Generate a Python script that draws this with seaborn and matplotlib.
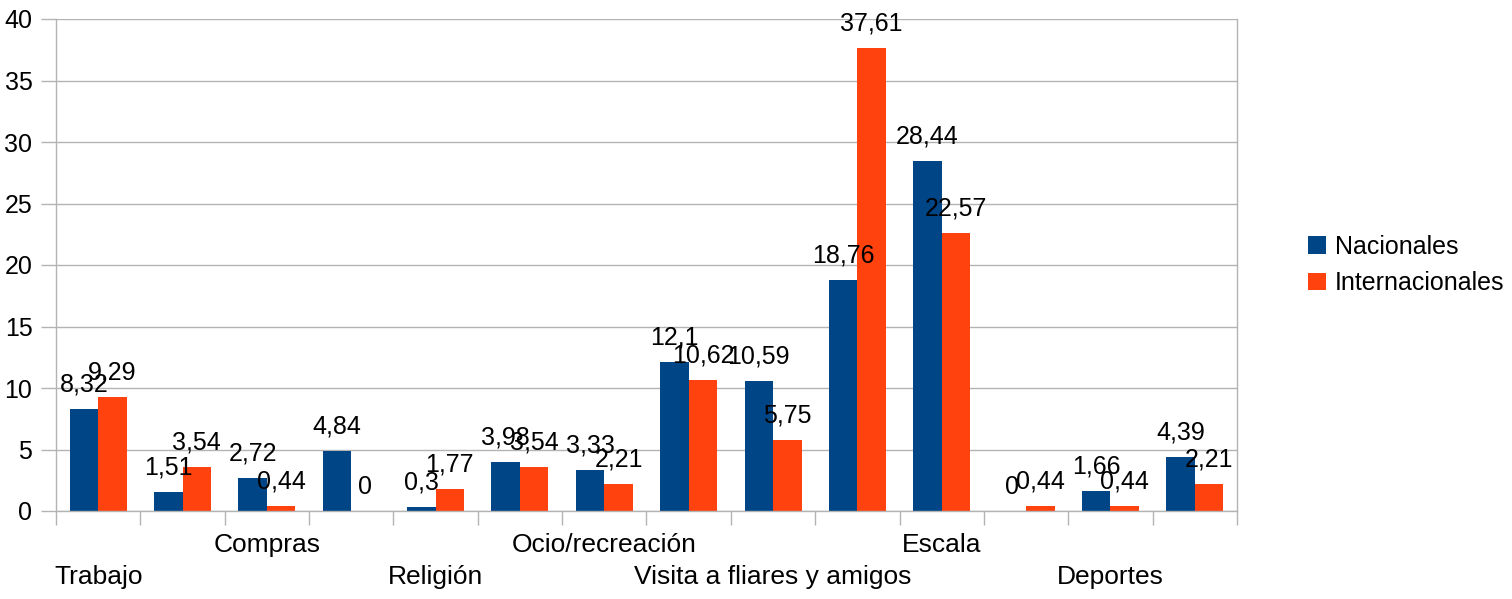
import numpy as np
import pandas as pd
import matplotlib.pyplot as plt
import seaborn as sns

# motivos de viaje (sólo se ven las etiquetas impares en el original)
etiquetas = ['Trabajo', '', 'Compras', '', 'Religión', '', 'Ocio/recreación', '',
             'Visita a fliares y amigos', '', 'Escala', '', 'Deportes', '']
nacionales = [8.32, 1.51, 2.72, 4.84, 0.3, 3.98, 3.33, 12.1, 10.59, 18.76, 28.44, 0, 1.66, 4.39]
internacionales = [9.29, 3.54, 0.44, 0, 1.77, 3.54, 2.21, 10.62, 5.75, 37.61, 22.57, 0.44, 0.44, 2.21]
series = ['Nacionales', 'Internacionales']
colores = ['#004586', '#ff420e']

n = len(etiquetas)
df = pd.DataFrame({
    'grupo': list(range(n)) * 2,
    'serie': [series[0]] * n + [series[1]] * n,
    'valor': nacionales + internacionales,
})

sns.set_theme(style='white')
plt.rcParams['font.family'] = ['Liberation Sans', 'DejaVu Sans']
plt.rcParams['text.color'] = 'black'
plt.rcParams['xtick.labelcolor'] = 'black'
plt.rcParams['ytick.labelcolor'] = 'black'
fs = 18

fig = plt.figure(figsize=(15.12, 5.99), dpi=100)
ax = fig.add_axes([56 / 1512, 88 / 599, 1181 / 1512, 492 / 599])

sns.barplot(data=df, x='grupo', y='valor', hue='serie', hue_order=series,
            palette=colores, width=0.675, saturation=1, linewidth=0, ax=ax, legend=True)

for cont in ax.containers:
    vals = [b.get_height() for b in cont]
    ax.bar_label(cont, labels=[f'{v:g}'.replace('.', ',') for v in vals],
                 padding=9, fontsize=fs, color='black')

gris = '#b3b3b3'
ax.set_ylim(0, 40)
ax.set_xlim(-0.5, n - 0.5)
ax.set_yticks(np.arange(0, 41, 5))
ax.yaxis.grid(True, color=gris, lw=1)
ax.set_axisbelow(True)

# ticks entre grupos, etiquetas en el centro (escalonadas)
ax.set_xticks(np.arange(-0.5, n, 1.0))
ax.set_xticklabels([])
ax.set_xticks(np.arange(n), minor=True)
labs = []
for i, e in enumerate(etiquetas):
    labs.append('\n' + e if i % 4 == 0 and e else e)
ax.set_xticklabels(labs, minor=True)
for lbl in ax.get_xticklabels(minor=True):
    lbl.set_linespacing(1.4)
ax.tick_params(axis='x', which='major', length=10, width=1, color=gris, direction='out', bottom=True)
ax.tick_params(axis='x', which='minor', length=0, pad=16, labelsize=19, bottom=True)
ax.tick_params(axis='y', length=11, width=1, color=gris, direction='out', pad=6, labelsize=fs, left=True)

for s in ['left', 'right', 'bottom']:
    ax.spines[s].set_color(gris)
    ax.spines[s].set_linewidth(1)
ax.spines['top'].set_visible(False)

ax.set_xlabel('')
ax.set_ylabel('')
ax.legend(loc='center left', bbox_to_anchor=(1.052, 0.5), frameon=False,
          fontsize=fs, handlelength=0.7, handleheight=0.7, handletextpad=0.35,
          labelspacing=0.5, borderaxespad=0)

plt.savefig('out.png', dpi=100)
